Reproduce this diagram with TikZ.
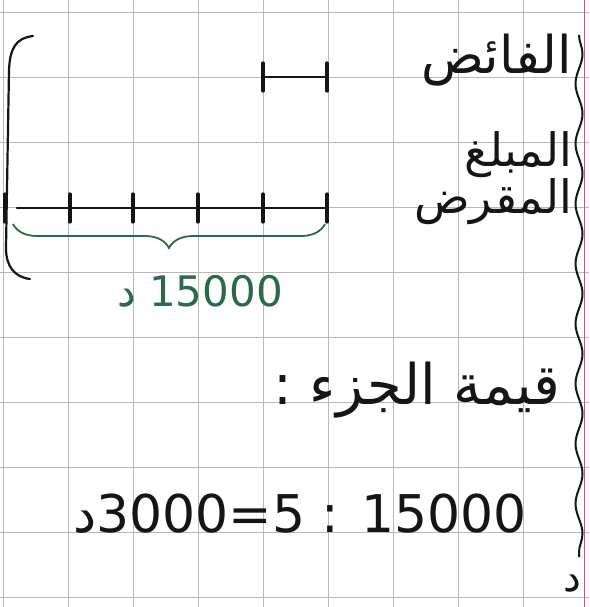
\documentclass[tikz,border=0pt]{standalone}
\usepackage{fontspec}
\usepackage{tikz}
\usetikzlibrary{decorations.pathmorphing,decorations.pathreplacing,positioning}
\TeXXeTstate=1
\newfontfamily\arabicfont[Script=Arabic]{DejaVu Sans}
\setmainfont{DejaVu Sans}
\definecolor{ink}{HTML}{151515}
\definecolor{inkgreen}{HTML}{2C6A47}
\definecolor{margin}{HTML}{D9507A}
\definecolor{paper}{HTML}{B9B9B9}

\begin{document}
\begin{tikzpicture}[x=1pt, y=-1pt,
  seg/.style={ink, line width=2.8pt, line cap=round},
  tick/.style={ink, line width=3.2pt, line cap=round},
  label/.style={ink, inner sep=0pt}]
  \useasboundingbox (0,0) rectangle (589,607);
  \fill[white] (0,0) rectangle (589,607);

  % Grid
  \foreach \x in {3,68,133,198,263,328,393,458,523}
    \draw[paper, line width=0.5pt] (\x,0) -- (\x,607);
  \foreach \y in {12,77,142,207,272,337,402,467,532,597}
    \draw[paper, line width=0.5pt] (0,\y) -- (589,\y);

  % Margin
  \draw[margin, line width=1pt] (584,0) -- (584,607);

  % Left bracket
  \draw[ink, line width=2.2pt, line cap=round]
    (33,36) .. controls (16,38) and (10,48) .. (9,70) -- (6,248)
    .. controls (6,266) and (14,277) .. (30,279);

  % Surplus segment
  \coordinate (sa) at (263,77);
  \coordinate (sb) at (327,77);
  \draw[seg] (sa) -- (sb);
  \foreach \p in {sa,sb}
    \draw[tick] ([yshift=-14]\p) -- ([yshift=14]\p);

  % Loan segment: five parts
  \foreach \x [count=\i] in {5,70,133,198,263,327}
    \coordinate (l\i) at (\x,208);
  \draw[seg] ([xshift=12]l1) -- (l6);
  \foreach \i in {1,...,6}
    \draw[tick] ([yshift=-14]l\i) -- ([yshift=14]l\i);

  % Brace and total
  \draw[inkgreen, line width=1.8pt, decorate,
    decoration={brace, mirror, amplitude=24pt}]
    ([xshift=8,yshift=-16]l1) -- ([xshift=-2,yshift=-16]l6);
  \node[inkgreen, font=\fontsize{42}{42}\selectfont, inner sep=0pt] (total) at (200,291)
    {{\arabicfont د} 15000};

  % Labels
  \node[label, font=\arabicfont\fontsize{52}{52}\selectfont, anchor=east]
    (surplus) at (572,60) {\beginR الفائض\endR};
  \node[label, font=\arabicfont\fontsize{46}{40}\selectfont, anchor=east, align=right]
    (loan) at (572,178) {\beginR المبلغ\endR\\\beginR المقرض\endR};

  % Value of one part
  \node[label, font=\arabicfont\fontsize{56}{56}\selectfont, anchor=east]
    (part) at (560,390) {\beginR قيمة الجزء :\endR};
  \node[ink, font=\fontsize{52}{52}\selectfont, inner sep=0pt] (calc) at (300,514)
    {{\arabicfont د}3000=5 : 15000};

  % Right wavy bracket
  \coordinate (wa) at (579,35);
  \coordinate (wb) at (579,557);
  \draw[ink, line width=2pt, decorate,
    decoration={snake, amplitude=3.5pt, segment length=60pt}] (wa) -- (wb);
  \node[ink, font=\arabicfont\fontsize{40}{40}\selectfont, inner sep=0pt] (dinar)
    at (572,584) {د};
\end{tikzpicture}
\end{document}
